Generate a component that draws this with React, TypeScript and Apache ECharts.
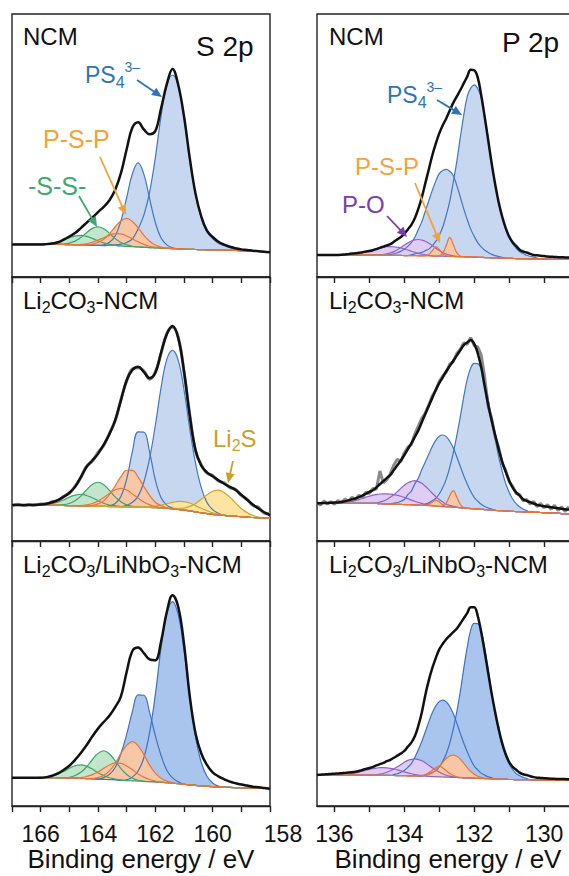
import React, { useEffect, useRef } from 'react';
import * as echarts from 'echarts';

const FONT = '"Liberation Sans", Arial, Helvetica, sans-serif';

// ---------- x grids (binding energy, eV) ----------
const S2P_E = [
  167.0, 166.8, 166.6, 166.4, 166.2, 166.0, 165.8, 165.6, 165.4, 165.2,
  165.0, 164.8, 164.6, 164.4, 164.2, 164.0, 163.8, 163.6, 163.4, 163.2,
  163.0, 162.8, 162.6, 162.4, 162.2, 162.0, 161.8, 161.6, 161.4, 161.2,
  161.0, 160.8, 160.6, 160.4, 160.2, 160.0, 159.8, 159.6, 159.4, 159.2,
  159.0, 158.8, 158.6, 158.4, 158.2, 158.0,
];
const P2P_E = [
  136.5, 136.4, 136.3, 136.2, 136.1, 136.0, 135.9, 135.8, 135.7, 135.6,
  135.5, 135.4, 135.3, 135.2, 135.1, 135.0, 134.9, 134.8, 134.7, 134.6,
  134.5, 134.4, 134.3, 134.2, 134.1, 134.0, 133.9, 133.8, 133.7, 133.6,
  133.5, 133.4, 133.3, 133.2, 133.1, 133.0, 132.9, 132.8, 132.7, 132.6,
  132.5, 132.4, 132.3, 132.2, 132.1, 132.0, 131.9, 131.8, 131.7, 131.6,
  131.5, 131.4, 131.3, 131.2, 131.1, 131.0, 130.9, 130.8, 130.7, 130.6,
  130.5, 130.4, 130.3, 130.2, 130.1, 130.0, 129.9, 129.8, 129.7, 129.6,
  129.5, 129.4, 129.3, 129.2, 129.1, 129.0,
];
const S2P_TICKS = [166, 164, 162, 160, 158];
const P2P_TICKS = [136, 134, 132, 130];

// ---------- S 2p, NCM (top-left) ----------
const TL_BASE = [
  12.4, 12.4, 12.4, 12.4, 12.4, 12.4, 12.4, 12.4, 12.4, 12.35,
  12.3, 12.25, 12.2, 12.15, 12.1, 12.0, 11.95, 11.9, 11.8, 11.7,
  11.6, 11.5, 11.4, 11.3, 11.2, 11.1, 11.0, 10.9, 10.8, 10.7,
  10.6, 10.5, 10.45, 10.4, 10.35, 10.3, 10.25, 10.2, 10.15, 10.1,
  10.0, 9.9, 9.8, 9.7, 9.55, 9.4,
];
const TL_ENV = [
  12.4, 12.4, 12.4, 12.4, 12.4, 12.4, 12.5, 12.7, 13.2, 14.2,
  15.4, 16.7, 18.6, 20.6, 22.6, 24.7, 26.7, 29.2, 33.2, 39.5,
  48.6, 56.8, 58.8, 56.1, 54.3, 55.5, 64.1, 73.3, 79.1, 73.0,
  61.1, 45.3, 31.8, 23.1, 17.6, 15.2, 13.4, 12.3, 11.5, 10.95,
  10.5, 10.3, 10.0, 9.8, 9.6, 9.4,
];
const TL_B1 = { start: 163.6, vals: [0.2, 0.4, 0.8, 1.5, 3.0, 6.9, 12.2, 21.1, 34.3, 50.2, 62.0, 66.0, 62.0, 50.2, 34.3, 21.1, 12.2, 6.9, 4.3, 2.6, 1.7, 1.0, 0.6, 0.3, 0.1] };
const TL_B2 = { start: 163.8, vals: [0.3, 1.3, 3.8, 9.6, 18.6, 27.8, 32.0, 27.8, 18.6, 9.6, 3.8, 1.3, 0.3] };
const TL_O1 = { start: 164.4, vals: [0.1, 0.4, 1.1, 2.4, 4.5, 7.3, 9.6, 10.7, 9.6, 7.3, 4.5, 2.4, 1.1, 0.4, 0.1] };
const TL_O2 = { start: 164.6, vals: [0.2, 0.5, 1.1, 2.0, 3.0, 4.0, 4.7, 4.7, 4.0, 3.0, 2.0, 1.1, 0.5, 0.2] };
const TL_G1 = { start: 165.2, vals: [0.2, 0.6, 1.4, 2.8, 4.7, 6.4, 7.1, 6.4, 4.7, 2.8, 1.4, 0.6, 0.2] };
const TL_G2 = { start: 166.0, vals: [0.1, 0.2, 0.5, 1.0, 1.7, 2.6, 3.3, 3.6, 3.3, 2.6, 1.7, 1.0, 0.5, 0.2, 0.1] };

// ---------- S 2p, Li2CO3-NCM (middle-left) ----------
const ML_BASE = [
  13.6, 13.6, 13.6, 13.6, 13.6, 13.6, 13.6, 13.55, 13.5, 13.45,
  13.4, 13.35, 13.3, 13.25, 13.2, 13.15, 13.1, 13.05, 13.0, 12.95,
  12.9, 12.85, 12.8, 12.75, 12.7, 12.6, 12.5, 12.4, 12.2, 12.0,
  11.7, 11.4, 11.0, 10.7, 10.4, 10.1, 9.9, 9.7, 9.5, 9.35,
  9.2, 9.05, 8.9, 8.8, 8.7, 8.6,
];
const ML_ENV = [
  13.6, 13.6, 13.6, 13.6, 13.7, 13.8, 14.1, 14.7, 15.5, 16.7,
  18.3, 20.5, 24.2, 28.0, 30.5, 33.0, 36.5, 40.5, 45.8, 53.3,
  60.9, 64.8, 66.0, 64.0, 61.7, 63.7, 71.4, 78.3, 81.4, 76.8,
  64.4, 47.6, 34.5, 28.6, 26.0, 24.5, 23.0, 21.7, 20.5, 19.3,
  17.5, 15.6, 13.8, 12.3, 10.9, 9.8,
];
const ML_RAW = [
  13.3, 13.9, 13.4, 13.8, 13.5, 14.0, 14.0, 14.9, 15.3, 16.9,
  18.0, 20.8, 24.0, 28.4, 30.2, 33.6, 36.2, 40.8, 45.5, 53.6,
  60.6, 65.2, 65.6, 64.5, 61.3, 64.0, 71.0, 78.6, 81.0, 77.2,
  64.0, 47.9, 34.2, 28.9, 25.7, 24.8, 22.7, 22.0, 20.2, 19.6,
  17.2, 15.9, 13.4, 12.8, 10.5, 10.3,
];
const ML_B1 = { start: 163.0, vals: [0.6, 1.8, 4.2, 9.6, 18.6, 31.2, 45.6, 56.4, 60.0, 56.4, 45.6, 31.2, 18.6, 9.6, 4.2, 1.8, 0.6] };
const ML_B2 = { start: 163.6, vals: [0.3, 1.2, 3.9, 10.5, 21.0, 28.5, 28.5, 21.0, 10.5, 3.9, 1.2, 0.3] };
const ML_O1 = { start: 164.2, vals: [0.3, 0.9, 2.1, 4.6, 7.9, 11.4, 13.9, 13.9, 11.4, 7.9, 4.6, 2.1, 0.9, 0.3] };
const ML_O2 = { start: 164.6, vals: [0.1, 0.4, 1.0, 2.0, 3.4, 5.0, 6.4, 7.0, 6.4, 5.0, 3.4, 2.0, 1.0, 0.4, 0.1] };
const ML_G1 = { start: 165.2, vals: [0.3, 0.8, 1.9, 3.7, 6.1, 8.2, 9.1, 8.2, 6.1, 3.7, 1.9, 0.8, 0.3] };
const ML_G2 = { start: 166.0, vals: [0.1, 0.3, 0.6, 1.2, 2.1, 3.2, 4.0, 4.4, 4.0, 3.2, 2.1, 1.2, 0.6, 0.3, 0.1] };
const ML_Y1 = { start: 161.2, vals: [0.3, 0.8, 1.7, 3.1, 5.1, 7.1, 8.7, 9.4, 8.7, 7.1, 5.1, 3.1, 1.7, 0.8, 0.3, 0.1] };
const ML_Y2 = { start: 162.4, vals: [0.1, 0.3, 0.6, 1.1, 1.7, 2.4, 3.0, 3.2, 3.0, 2.4, 1.7, 1.1, 0.6, 0.3, 0.1] };

// ---------- S 2p, Li2CO3/LiNbO3-NCM (bottom-left) ----------
const BL_BASE = [
  10.7, 10.7, 10.7, 10.7, 10.7, 10.7, 10.7, 10.7, 10.65, 10.6,
  10.55, 10.5, 10.4, 10.35, 10.25, 10.15, 10.05, 9.95, 9.85, 9.7,
  9.6, 9.5, 9.4, 9.3, 9.2, 9.1, 8.95, 8.8, 8.6, 8.4,
  8.2, 8.0, 7.8, 7.6, 7.45, 7.3, 7.2, 7.1, 7.0, 6.95,
  6.9, 6.85, 6.8, 6.75, 6.7, 6.6,
];
const BL_ENV = [
  10.7, 10.7, 10.7, 10.7, 10.7, 10.7, 10.9, 11.4, 12.3, 13.6,
  15.2, 17.4, 20.0, 22.9, 26.2, 29.2, 31.7, 34.1, 37.3, 41.4,
  50.6, 58.5, 59.8, 57.7, 55.3, 55.0, 62.1, 73.2, 79.5, 75.1,
  61.2, 41.5, 27.5, 19.9, 15.5, 12.7, 11.2, 10.1, 9.2, 8.6,
  8.1, 7.7, 7.3, 7.1, 6.8, 6.5,
];
const BL_B1 = { start: 163.0, vals: [0.3, 1.4, 3.8, 8.9, 18.5, 32.9, 50.7, 63.7, 68.5, 63.7, 50.7, 32.9, 18.5, 8.9, 3.8, 1.4, 0.3] };
const BL_B2 = { start: 163.8, vals: [0.7, 2.0, 4.7, 10.1, 17.4, 26.1, 32.5, 32.5, 26.1, 17.4, 10.1, 4.7, 2.0, 0.7] };
const BL_O1 = { start: 164.2, vals: [0.1, 0.6, 1.5, 3.3, 6.2, 10.1, 13.3, 14.8, 13.3, 10.1, 6.2, 3.3, 1.5, 0.6, 0.1] };
const BL_O2 = { start: 164.8, vals: [0.1, 0.3, 0.8, 1.6, 2.7, 4.2, 5.5, 6.4, 6.4, 5.5, 4.2, 2.7, 1.6, 0.8, 0.3, 0.1] };
const BL_G1 = { start: 165.0, vals: [0.3, 1.0, 2.3, 4.4, 7.2, 9.7, 10.8, 9.7, 7.2, 4.4, 2.3, 1.0, 0.3] };
const BL_G2 = { start: 166.0, vals: [0.1, 0.3, 0.7, 1.4, 2.4, 3.7, 4.7, 5.1, 4.7, 3.7, 2.4, 1.4, 0.7, 0.3, 0.1] };

// ---------- P 2p, NCM (top-right) ----------
const TR_BASE = [
  8.4, 8.4, 8.4, 8.4, 8.4, 8.4, 8.4, 8.4, 8.4, 8.4,
  8.4, 8.4, 8.4, 8.4, 8.4, 8.4, 8.35, 8.35, 8.3, 8.3,
  8.3, 8.25, 8.25, 8.2, 8.2, 8.15, 8.15, 8.1, 8.1, 8.05,
  8.05, 8.0, 8.0, 7.95, 7.95, 7.9, 7.9, 7.85, 7.8, 7.8,
  7.75, 7.7, 7.7, 7.65, 7.6, 7.55, 7.5, 7.45, 7.4, 7.35,
  7.3, 7.25, 7.2, 7.15, 7.1, 7.1, 7.05, 7.0, 7.0, 6.95,
  6.95, 6.9, 6.9, 6.85, 6.85, 6.8, 6.8, 6.75, 6.75, 6.7,
  6.7, 6.7, 6.7, 6.7, 6.7, 6.7,
];
const TR_ENV = [
  8.4, 8.4, 8.4, 8.4, 8.4, 8.4, 8.4, 8.45, 8.6, 8.7,
  8.9, 9.0, 9.2, 9.4, 9.7, 9.9, 10.2, 10.6, 11.1, 11.55,
  12.0, 12.5, 13.4, 14.3, 15.2, 16.4, 18.1, 19.8, 22.3, 25.9,
  30.3, 35.6, 40.9, 46.2, 50.7, 54.6, 57.7, 60.3, 63.3, 66.2,
  68.6, 71.0, 73.6, 76.2, 78.8, 78.6, 75.9, 69.2, 60.9, 52.1,
  43.2, 35.3, 28.4, 23.0, 18.7, 15.4, 13.2, 11.8, 10.4, 9.7,
  9.3, 8.8, 8.4, 8.25, 8.1, 7.95, 7.8, 7.7, 7.6, 7.55,
  7.5, 7.45, 7.4, 7.35, 7.3, 7.3,
];
const TR_B1 = { start: 133.8, vals: [0.3, 0.7, 1.0, 1.3, 2.0, 2.6, 3.9, 5.6, 7.9, 11.1, 15.7, 21.0, 28.2, 36.0, 45.2, 53.7, 60.9, 64.2, 65.5, 64.2, 60.9, 53.7, 45.2, 36.0, 28.2, 21.0, 15.7, 11.1, 7.9, 5.6, 3.9, 2.6, 2.0, 1.3, 1.0, 0.7, 0.3] };
const TR_B2 = { start: 134.4, vals: [0.3, 0.6, 1.0, 1.6, 2.4, 3.5, 5.0, 7.0, 10.0, 13.0, 17.0, 21.0, 25.0, 28.5, 31.4, 32.6, 33.1, 32.4, 30.8, 27.1, 22.8, 18.2, 14.2, 10.6, 7.9, 5.6, 4.0, 2.8, 2.0, 1.3, 0.9, 0.6, 0.3] };
const TR_O1 = { start: 133.0, vals: [0.2, 1.2, 4.2, 7.3, 4.6, 1.5, 0.3] };
const TR_O2 = { start: 133.4, vals: [0.1, 0.6, 2.0, 3.6, 2.6, 0.9, 0.2] };
const TR_P1 = { start: 134.7, vals: [0.1, 0.25, 0.5, 0.9, 1.4, 2.2, 3.0, 4.0, 4.8, 5.6, 6.0, 6.2, 6.0, 5.6, 4.8, 4.0, 3.0, 2.2, 1.4, 0.9, 0.5, 0.25, 0.1] };
const TR_P2 = { start: 135.6, vals: [0.1, 0.2, 0.4, 0.6, 0.9, 1.3, 1.7, 2.1, 2.5, 2.9, 3.1, 3.25, 3.3, 3.25, 3.1, 2.9, 2.5, 2.1, 1.7, 1.3, 0.9, 0.6, 0.4, 0.2, 0.1] };

// ---------- P 2p, Li2CO3-NCM (middle-right) ----------
const MR_BASE = [
  14.3, 14.3, 14.3, 14.3, 14.3, 14.3, 14.3, 14.3, 14.3, 14.3,
  14.3, 14.3, 14.3, 14.3, 14.3, 14.28, 14.25, 14.2, 14.15, 14.1,
  14.05, 14.0, 13.95, 13.9, 13.85, 13.8, 13.75, 13.7, 13.65, 13.6,
  13.55, 13.45, 13.35, 13.3, 13.2, 13.1, 13.05, 12.95, 12.9, 12.8,
  12.7, 12.6, 12.5, 12.4, 12.3, 12.2, 12.1, 12.0, 11.9, 11.8,
  11.7, 11.6, 11.5, 11.45, 11.35, 11.3, 11.2, 11.15, 11.1, 11.05,
  11.0, 10.95, 10.9, 10.85, 10.8, 10.75, 10.7, 10.6, 10.55, 10.5,
  10.4, 10.35, 10.25, 10.2, 10.1, 10.05,
];
const MR_ENV = [
  14.3, 14.3, 14.4, 14.4, 14.5, 14.55, 14.6, 14.8, 15.1, 15.4,
  15.8, 16.1, 16.6, 17.2, 17.9, 18.6, 19.2, 20.3, 21.5, 22.7,
  23.9, 25.0, 26.9, 28.7, 30.5, 32.5, 34.8, 37.0, 39.4, 41.9,
  45.0, 48.1, 51.2, 54.2, 57.3, 59.8, 62.0, 64.3, 66.3, 68.2,
  70.2, 72.2, 74.2, 75.2, 76.1, 74.7, 71.2, 65.9, 58.6, 51.7,
  45.6, 40.1, 34.8, 30.1, 26.3, 22.9, 20.2, 18.4, 17.2, 15.8,
  15.2, 14.7, 14.2, 13.7, 13.4, 13.2, 13.0, 12.8, 12.6, 12.4,
  12.2, 12.0, 11.9, 11.8, 11.7, 11.7,
];
const MR_RAW = [
  14.6, 13.6, 15.2, 14.0, 14.9, 13.9, 15.3, 14.5, 15.9, 15.0,
  16.6, 15.7, 17.3, 16.6, 18.5, 18.0, 19.9, 19.6, 26.5, 22.0,
  23.2, 25.5, 28.8, 31.0, 30.0, 33.4, 35.5, 36.5, 40.5, 43.5,
  46.5, 48.5, 51.5, 55.0, 57.0, 60.5, 62.5, 64.0, 67.0, 68.0,
  71.0, 72.5, 75.0, 74.5, 77.0, 74.0, 73.5, 70.5, 62.0, 51.0,
  46.5, 39.5, 35.5, 29.5, 26.8, 22.5, 20.8, 18.0, 17.6, 15.2,
  15.8, 14.0, 15.0, 13.0, 14.2, 12.6, 13.8, 12.0, 13.5, 11.6,
  13.0, 11.2, 12.8, 11.0, 12.4, 11.5,
];
const MR_B1 = { start: 133.4, vals: [0.55, 1.1, 1.9, 3.0, 4.7, 7.2, 10.5, 15.0, 20.5, 27.1, 34.3, 42.1, 48.8, 53.2, 55.1, 55.1, 53.2, 48.8, 42.1, 34.3, 27.1, 20.5, 15.0, 10.5, 7.2, 4.7, 3.0, 1.9, 1.1, 0.55] };
const MR_B2 = { start: 134.3, vals: [0.4, 0.7, 1.2, 1.9, 3.8, 5.2, 8.0, 10.2, 13.5, 16.5, 19.5, 22.5, 24.9, 26.6, 27.1, 26.6, 24.9, 22.5, 19.2, 15.7, 12.2, 9.2, 6.5, 4.3, 3.0, 1.9, 1.2, 0.7, 0.4] };
const MR_O1 = { start: 132.9, vals: [0.3, 1.5, 4.2, 6.3, 4.0, 1.3, 0.2] };
const MR_O2 = { start: 133.4, vals: [0.1, 0.5, 1.5, 2.3, 1.7, 0.6, 0.1] };
const MR_P1 = { start: 134.9, vals: [0.15, 0.3, 0.6, 1.0, 1.7, 2.6, 3.6, 4.8, 6.1, 7.3, 8.3, 8.9, 9.2, 8.9, 8.3, 7.3, 6.1, 4.8, 3.6, 2.6, 1.7, 1.0, 0.6, 0.3, 0.15] };
const MR_P2 = { start: 135.8, vals: [0.1, 0.25, 0.45, 0.7, 1.0, 1.4, 1.8, 2.3, 2.7, 3.1, 3.4, 3.65, 3.75, 3.8, 3.75, 3.65, 3.4, 3.1, 2.7, 2.3, 1.8, 1.4, 1.0, 0.7, 0.45, 0.25, 0.1] };

// ---------- P 2p, Li2CO3/LiNbO3-NCM (bottom-right) ----------
const BR_BASE = [
  11.7, 11.7, 11.7, 11.7, 11.7, 11.7, 11.7, 11.7, 11.7, 11.7,
  11.7, 11.7, 11.7, 11.7, 11.7, 11.68, 11.65, 11.62, 11.6, 11.57,
  11.55, 11.52, 11.5, 11.47, 11.45, 11.42, 11.4, 11.37, 11.35, 11.3,
  11.25, 11.2, 11.15, 11.1, 11.05, 11.0, 10.95, 10.9, 10.85, 10.8,
  10.75, 10.7, 10.65, 10.6, 10.55, 10.5, 10.45, 10.4, 10.35, 10.3,
  10.25, 10.2, 10.15, 10.1, 10.05, 10.0, 10.0, 9.95, 9.95, 9.9,
  9.9, 9.9, 9.85, 9.85, 9.85, 9.8, 9.8, 9.8, 9.8, 9.8,
  9.8, 9.8, 9.8, 9.8, 9.8, 9.8,
];
const BR_ENV = [
  11.7, 11.8, 11.9, 12.0, 12.1, 12.2, 12.25, 12.4, 12.5, 12.6,
  12.75, 12.9, 13.2, 13.6, 14.0, 14.35, 14.75, 15.3, 15.8, 16.3,
  16.9, 17.4, 18.2, 19.0, 19.8, 20.8, 22.4, 23.9, 26.3, 30.2,
  35.3, 41.8, 47.4, 52.0, 55.8, 59.1, 61.2, 62.9, 64.3, 65.6,
  66.9, 68.8, 70.8, 72.8, 75.0, 75.0, 71.8, 65.7, 58.2, 50.3,
  42.4, 35.4, 29.1, 23.7, 19.6, 16.6, 14.8, 13.7, 12.6, 12.0,
  11.7, 11.25, 10.9, 10.7, 10.6, 10.5, 10.4, 10.3, 10.25, 10.2,
  10.2, 10.15, 10.1, 10.1, 10.1, 10.1,
];
const BR_B1 = { start: 133.4, vals: [0.5, 0.9, 1.5, 2.3, 3.8, 5.9, 8.8, 12.9, 18.2, 24.7, 32.3, 41.1, 49.3, 55.8, 58.4, 58.4, 55.8, 49.3, 41.1, 32.3, 24.7, 18.2, 12.9, 8.8, 5.9, 3.8, 2.3, 1.5, 0.9, 0.5] };
const BR_B2 = { start: 134.3, vals: [0.4, 0.7, 1.3, 2.0, 3.2, 4.6, 7.0, 9.9, 13.1, 16.8, 20.6, 24.1, 26.7, 28.4, 29.0, 28.4, 26.7, 24.1, 20.6, 16.8, 13.1, 9.9, 7.0, 4.6, 3.2, 2.0, 1.3, 0.7, 0.4] };
const BR_O1 = { start: 133.5, vals: [0.2, 0.4, 0.8, 1.5, 2.5, 3.9, 5.5, 7.0, 8.0, 8.4, 8.0, 7.0, 5.5, 3.9, 2.5, 1.5, 0.8, 0.4, 0.2] };
const BR_O2 = { start: 133.6, vals: [0.1, 0.3, 0.7, 1.4, 2.4, 3.4, 4.1, 3.4, 2.4, 1.4, 0.7, 0.3, 0.1] };
const BR_P1 = { start: 134.8, vals: [0.2, 0.4, 0.7, 1.2, 1.8, 2.5, 3.3, 4.2, 5.1, 5.8, 6.2, 6.4, 6.2, 5.8, 5.1, 4.2, 3.3, 2.5, 1.8, 1.2, 0.7, 0.4, 0.2] };
const BR_P2 = { start: 135.8, vals: [0.1, 0.2, 0.35, 0.55, 0.8, 1.1, 1.45, 1.8, 2.15, 2.45, 2.7, 2.85, 2.9, 2.85, 2.7, 2.45, 2.15, 1.8, 1.45, 1.1, 0.8, 0.55, 0.35, 0.2, 0.1] };

// ---------- styles ----------
const STY: Record<string, { line: string; fill: string }> = {
  blue: { line: '#4077c4', fill: '#c7d7ef' },
  blueDeep: { line: '#3c72c4', fill: '#a9c5ee' },
  orange: { line: '#e8763a', fill: '#f8c7a6' },
  green: { line: '#3aa566', fill: '#c1e6cb' },
  yellow: { line: '#d2a52c', fill: '#fce5a0' },
  purple: { line: '#9362c9', fill: '#dfcdf3' },
};

type Comp = { start: number; vals: number[] };
type Panel = {
  col: number; row: number; base: number[]; env: number[]; raw: number[] | null;
  comps: [Comp, string][];
};

const PANELS: Panel[] = [
  { col: 0, row: 0, base: TL_BASE, env: TL_ENV, raw: null,
    comps: [[TL_B2, 'blue'], [TL_B1, 'blue'], [TL_G2, 'green'], [TL_G1, 'green'], [TL_O2, 'orange'], [TL_O1, 'orange']] },
  { col: 0, row: 1, base: ML_BASE, env: ML_ENV, raw: ML_RAW,
    comps: [[ML_B2, 'blue'], [ML_B1, 'blue'], [ML_G2, 'green'], [ML_G1, 'green'], [ML_Y2, 'yellow'], [ML_Y1, 'yellow'], [ML_O2, 'orange'], [ML_O1, 'orange']] },
  { col: 0, row: 2, base: BL_BASE, env: BL_ENV, raw: null,
    comps: [[BL_B2, 'blueDeep'], [BL_B1, 'blueDeep'], [BL_G2, 'green'], [BL_G1, 'green'], [BL_O2, 'orange'], [BL_O1, 'orange']] },
  { col: 1, row: 0, base: TR_BASE, env: TR_ENV, raw: null,
    comps: [[TR_B2, 'blue'], [TR_B1, 'blue'], [TR_P2, 'purple'], [TR_P1, 'purple'], [TR_O2, 'orange'], [TR_O1, 'orange']] },
  { col: 1, row: 1, base: MR_BASE, env: MR_ENV, raw: MR_RAW,
    comps: [[MR_B2, 'blue'], [MR_B1, 'blue'], [MR_P2, 'purple'], [MR_P1, 'purple'], [MR_O2, 'orange'], [MR_O1, 'orange']] },
  { col: 1, row: 2, base: BR_BASE, env: BR_ENV, raw: null,
    comps: [[BR_B2, 'blueDeep'], [BR_B1, 'blueDeep'], [BR_P2, 'purple'], [BR_P1, 'purple'], [BR_O2, 'orange'], [BR_O1, 'orange']] },
];

const ROW_TOP = [14, 277, 541];
const ROW_H = [263, 264, 265];
const COL_LEFT = [12, 317];
const COL_W = [258, 262];

function pad(grid: number[], start: number, vals: number[]) {
  const out = grid.map(() => 0);
  const i0 = grid.findIndex((e) => Math.abs(e - start) < 1e-6);
  if (i0 < 0) return out;
  vals.forEach((v, j) => {
    if (i0 + j < out.length) out[i0 + j] = v;
  });
  return out;
}

const isInt = (v: any) => Math.abs(Number(v) - Math.round(Number(v))) < 1e-6;

function richText(x: number, y: number, parts: [string, string][], color: string, size = 24) {
  const text = parts.map(([t, k]) => `{${k}|${t}}`).join('');
  return {
    type: 'text', x, y, z: 100, silent: true,
    style: {
      text, fill: color, align: 'left', verticalAlign: 'top',
      fontFamily: FONT, fontSize: size,
      rich: {
        m: { fontSize: size, lineHeight: 30, fontFamily: FONT, fill: color },
        s: { fontSize: 16, lineHeight: 10, verticalAlign: 'bottom', fontFamily: FONT, fill: color },
        u: { fontSize: 14, lineHeight: 20, verticalAlign: 'top', fontFamily: FONT, fill: color },
      },
    },
  };
}

function plainText(x: number, baseline: number, text: string, color: string, size: number) {
  return {
    type: 'text', x, y: baseline - 0.3465 * size, z: 100, silent: true,
    style: { text, fill: color, align: 'left', verticalAlign: 'middle', fontFamily: FONT, fontSize: size },
  };
}

function arrow(x1: number, y1: number, x2: number, y2: number, color: string) {
  const dx = x2 - x1, dy = y2 - y1;
  const len = Math.hypot(dx, dy);
  const ux = dx / len, uy = dy / len;
  const L = 10, W = 4.5;
  const bx = x2 - ux * L, by = y2 - uy * L;
  return [
    { type: 'line', z: 100, silent: true, shape: { x1, y1, x2: bx + ux * 2, y2: by + uy * 2 }, style: { stroke: color, lineWidth: 1.8 } },
    { type: 'polygon', z: 100, silent: true, shape: { points: [[x2, y2], [bx - uy * W, by + ux * W], [bx + uy * W, by - ux * W]] }, style: { fill: color } },
  ];
}

const BLUE_T = '#2e75b6';
const ORANGE_T = '#f2a33a';
const GREEN_T = '#3daa6e';
const PURPLE_T = '#7a3db0';
const GOLD_T = '#c9a227';

function buildOption() {
  const grids: any[] = [];
  const xAxes: any[] = [];
  const yAxes: any[] = [];
  const series: any[] = [];
  const SM = 0.4;

  PANELS.forEach((p, gi) => {
    const E = p.col === 0 ? S2P_E : P2P_E;
    const ticks = p.col === 0 ? S2P_TICKS : P2P_TICKS;
    grids.push({
      left: COL_LEFT[p.col], top: ROW_TOP[p.row], width: COL_W[p.col], height: ROW_H[p.row],
      show: true, borderColor: '#222', borderWidth: 1.4, backgroundColor: 'transparent', containLabel: false,
    });
    const bottom = p.row === 2;
    xAxes.push({
      type: 'category', gridIndex: gi, data: E.map(String), boundaryGap: false,
      axisLine: { show: true, lineStyle: { color: '#222', width: 1.4 } },
      axisTick: { show: true, inside: false, length: 6, interval: (_i: number, v: string) => isInt(v), lineStyle: { color: '#222', width: 1.4 } },
      axisLabel: {
        show: bottom, interval: (_i: number, v: string) => ticks.includes(Number(v)),
        margin: 16, fontSize: 23, color: '#111', fontFamily: FONT,
        formatter: (v: string) => (v === '158' ? '{r|158}' : v),
        rich: { r: { fontSize: 23, color: '#111', fontFamily: FONT, padding: [0, 0, 0, 26] } },
      },
      splitLine: { show: false },
      name: bottom ? 'Binding energy / eV' : '',
      nameLocation: 'middle', nameGap: 40,
      nameTextStyle: { fontSize: 26, color: '#111', fontFamily: FONT },
    });
    yAxes.push({ type: 'value', gridIndex: gi, min: 0, max: 100, show: false });

    const tops: { data: number[]; color: string }[] = [];
    p.comps.forEach(([c, kind], k) => {
      const st = STY[kind];
      const stack = `g${gi}c${k}`;
      const h = pad(E, c.start, c.vals);
      // filled band between the background and background + component
      series.push({
        type: 'line', xAxisIndex: gi, yAxisIndex: gi, data: p.base, stack, symbol: 'none',
        smooth: SM, lineStyle: { opacity: 0, width: 0 }, silent: true, z: 2,
      });
      series.push({
        type: 'line', xAxisIndex: gi, yAxisIndex: gi, data: h, stack, symbol: 'none',
        smooth: SM, lineStyle: { opacity: 0, width: 0 }, areaStyle: { color: st.fill, opacity: 1 },
        silent: true, z: 2,
      });
      tops.push({ data: h.map((v, i) => v + p.base[i]), color: st.line });
    });
    // outlines of every component on top of all fills
    tops.forEach((t) => {
      series.push({
        type: 'line', xAxisIndex: gi, yAxisIndex: gi, data: t.data, symbol: 'none',
        smooth: SM, lineStyle: { color: t.color, width: 1.2 }, silent: true, z: 3,
      });
    });
    if (p.raw) {
      series.push({
        type: 'line', xAxisIndex: gi, yAxisIndex: gi, data: p.raw, symbol: 'none',
        smooth: p.col === 0 ? SM : false, lineStyle: { color: '#8a8a8a', width: 3 }, silent: true, z: 4,
      });
    }
    series.push({
      type: 'line', xAxisIndex: gi, yAxisIndex: gi, data: p.env, symbol: 'none',
      smooth: SM, lineStyle: { color: '#111', width: 2.5 }, silent: true, z: 5,
    });
  });

  const elements: any[] = [
    // panel labels
    richText(23, 21, [['NCM', 'm']], '#111'),
    richText(329, 21, [['NCM', 'm']], '#111'),
    richText(23, 285.7, [['Li', 'm'], ['2', 's'], ['CO', 'm'], ['3', 's'], ['-NCM', 'm']], '#111'),
    richText(329, 285.7, [['Li', 'm'], ['2', 's'], ['CO', 'm'], ['3', 's'], ['-NCM', 'm']], '#111'),
    richText(23, 549.4, [['Li', 'm'], ['2', 's'], ['CO', 'm'], ['3', 's'], ['/LiNbO', 'm'], ['3', 's'], ['-NCM', 'm']], '#111'),
    richText(329, 549.4, [['Li', 'm'], ['2', 's'], ['CO', 'm'], ['3', 's'], ['/LiNbO', 'm'], ['3', 's'], ['-NCM', 'm']], '#111'),
    plainText(196, 56, 'S 2p', '#111', 28),
    plainText(502, 52, 'P 2p', '#111', 28),
    // annotations
    richText(85, 60.3, [['PS', 'm'], ['4', 's'], ['3–', 'u']], BLUE_T, 23),
    richText(387, 80.3, [['PS', 'm'], ['4', 's'], ['3–', 'u']], BLUE_T, 23),
    plainText(43, 148, 'P-S-P', ORANGE_T, 25),
    plainText(28, 195, '-S-S-', GREEN_T, 25),
    plainText(355, 175, 'P-S-P', ORANGE_T, 24),
    plainText(342, 213.3, 'P-O', PURPLE_T, 24),
    richText(213, 423.4, [['Li', 'm'], ['2', 's'], ['S', 'm']], GOLD_T, 24),
    ...arrow(137, 80, 162, 97, BLUE_T),
    ...arrow(100, 157, 126, 215, ORANGE_T),
    ...arrow(79, 196, 97, 227, GREEN_T),
    ...arrow(437, 100, 462, 115, BLUE_T),
    ...arrow(415, 183, 440, 243, ORANGE_T),
    ...arrow(387, 216, 407, 237, PURPLE_T),
    ...arrow(233, 461, 228, 483, GOLD_T),
  ];

  return {
    animation: false,
    backgroundColor: '#ffffff',
    grid: grids,
    xAxis: xAxes,
    yAxis: yAxes,
    series,
    graphic: { elements },
  };
}

export default function App() {
  const ref = useRef<HTMLDivElement>(null);
  useEffect(() => {
    if (!ref.current) return;
    const chart = echarts.init(ref.current, undefined, { renderer: 'svg' });
    chart.setOption(buildOption() as any);
    return () => chart.dispose();
  }, []);
  return (
    <div style={{ position: 'fixed', left: 0, top: 0, width: 569, height: 876, overflow: 'hidden', background: '#fff' }}>
      <div ref={ref} style={{ width: 580, height: 876 }} />
    </div>
  );
}
